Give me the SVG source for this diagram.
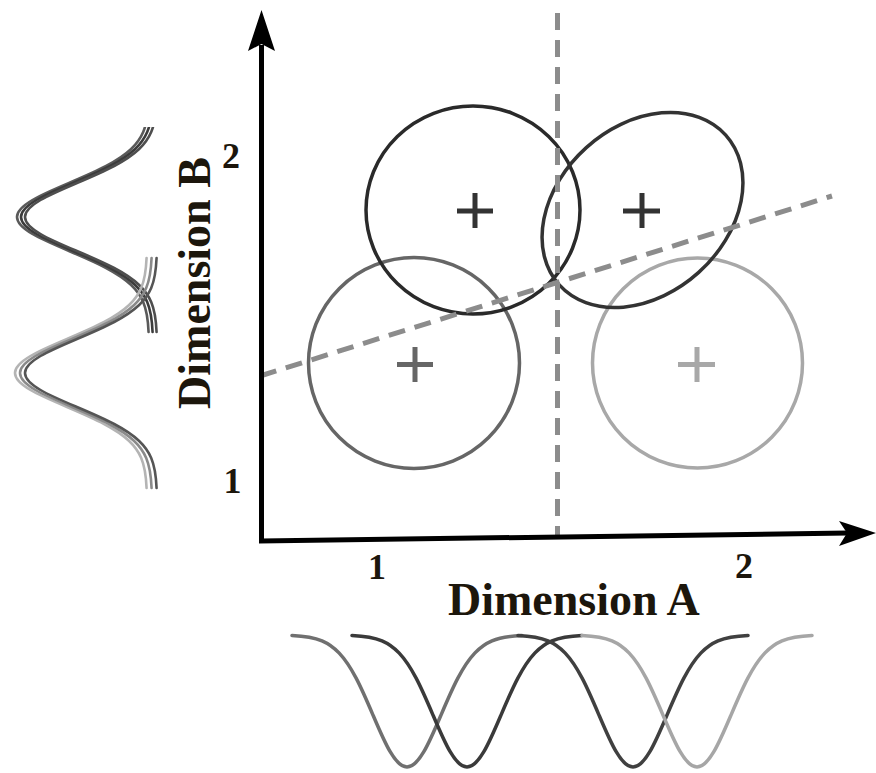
<svg xmlns="http://www.w3.org/2000/svg" xmlns:xlink="http://www.w3.org/1999/xlink" width="876" height="773" viewBox="0 0 876 773">
  <style>
    .lbl { font-family: "Liberation Serif", "Times New Roman", serif; font-weight: bold; fill: #1c160c; }
    .num { font-size: 36px; text-anchor: middle; }
    .title { font-size: 46px; }
    .ring { fill: none; stroke-width: 3.5; }
    .plus { fill: none; stroke-width: 5; }
    .dash { fill: none; stroke: #8c8c8c; stroke-width: 5; stroke-dasharray: 17 10; }
    .axis { fill: none; stroke: #000; stroke-width: 5; }
    .gb { fill: none; stroke-width: 3.5; stroke-linecap: round; }
    .gl { fill: none; stroke-width: 2.6; stroke-linecap: round; }
  </style>
  <defs>
    <path id="gauss" d="M-115 0.43 C-105 0.86 -95 1.54 -85 5.8 C-79.33 8.22 -73.67 11.9 -68 17.86 C-62.33 23.82 -56.67 32.14 -51 42.85 C-45.33 53.56 -39.67 66.71 -34 80.06 C-28.33 93.41 -22.67 106.78 -17 116.49 C-11.33 126.2 -5.67 132 0 132 C5.67 132 11.33 126.2 17 116.49 C22.67 106.78 28.33 93.41 34 80.06 C39.67 66.71 45.33 53.56 51 42.85 C56.67 32.14 62.33 23.82 68 17.86 C73.67 11.9 79.33 8.22 85 5.8 C95 1.54 105 0.86 115 0.43"/>
    <clipPath id="clipTop">
      <rect x="0" y="127" width="220" height="230"/>
    </clipPath>
  </defs>
  <rect width="876" height="773" fill="#ffffff"/>

  <!-- Left (Dimension B) distributions -->
  <g id="dist-b">
    <g clip-path="url(#clipTop)">
      <use xlink:href="#gauss" class="gl" stroke="#5a5a5a" transform="translate(149,217) rotate(90)"/>
      <use xlink:href="#gauss" class="gl" stroke="#3c3c3c" transform="translate(153,217) rotate(90)"/>
      <use xlink:href="#gauss" class="gl" stroke="#4e4e4e" transform="translate(157,217) rotate(90)"/>
    </g>
    <use xlink:href="#gauss" class="gl" stroke="#b4b4b4" transform="translate(147,373) rotate(90)"/>
    <use xlink:href="#gauss" class="gl" stroke="#8a8a8a" transform="translate(152,373) rotate(90)"/>
    <use xlink:href="#gauss" class="gl" stroke="#555555" transform="translate(157,373) rotate(90)"/>
  </g>

  <!-- Bottom (Dimension A) distributions -->
  <g id="dist-a">
    <use xlink:href="#gauss" class="gb" stroke="#707070" transform="translate(407,635)"/>
    <use xlink:href="#gauss" class="gb" stroke="#3a3a3a" transform="translate(467,635)"/>
    <use xlink:href="#gauss" class="gb" stroke="#404040" transform="translate(633,635)"/>
    <use xlink:href="#gauss" class="gb" stroke="#a6a6a6" transform="translate(697,635)"/>
  </g>

  <!-- Categories -->
  <g id="cat-lower-left">
    <circle class="ring" stroke="#666666" cx="414" cy="363" r="105.5"/>
    <path class="plus" stroke="#666666" d="M397 364.5 H433 M415 347 V382"/>
  </g>
  <g id="cat-lower-right">
    <circle class="ring" stroke="#a8a8a8" cx="697.5" cy="363" r="105"/>
    <path class="plus" stroke="#a8a8a8" d="M678 364.5 H715 M697 347 V382"/>
  </g>
  <g id="cat-upper-left">
    <ellipse class="ring" stroke="#2a2a2a" cx="473" cy="210" rx="107" ry="104"/>
    <path class="plus" stroke="#333333" d="M457 211 H493 M475 193 V228"/>
  </g>
  <g id="cat-upper-right">
    <ellipse class="ring" stroke="#333333" cx="642.5" cy="210" rx="112" ry="84" transform="rotate(-42 642.5 210)"/>
    <path class="plus" stroke="#333333" d="M623 211 H660 M642 193 V228"/>
  </g>

  <!-- Connectors: axes and category boundaries -->
  <g id="connectors">
    <line class="dash" x1="557.5" y1="13" x2="557.5" y2="538"/>
    <line class="dash" x1="260" y1="376" x2="832" y2="196"/>
    <path class="axis" d="M261.5 45 L261.5 541 L848 533"/>
    <path fill="#000" d="M261.5 10 L275 51 L261.5 44 L248 51 Z"/>
    <path fill="#000" d="M876 533 L839 546 L847 533 L839 521 Z"/>
  </g>

  <!-- Labels -->
  <g id="labels">
    <text class="lbl num" x="231" y="168">2</text>
    <text class="lbl num" x="232.5" y="493">1</text>
    <text class="lbl num" x="377" y="579">1</text>
    <text class="lbl num" x="744" y="578">2</text>
    <text class="lbl title" x="448" y="615">Dimension A</text>
    <text class="lbl title" text-anchor="middle" transform="translate(210,283) rotate(-90)">Dimension B</text>
  </g>
</svg>
